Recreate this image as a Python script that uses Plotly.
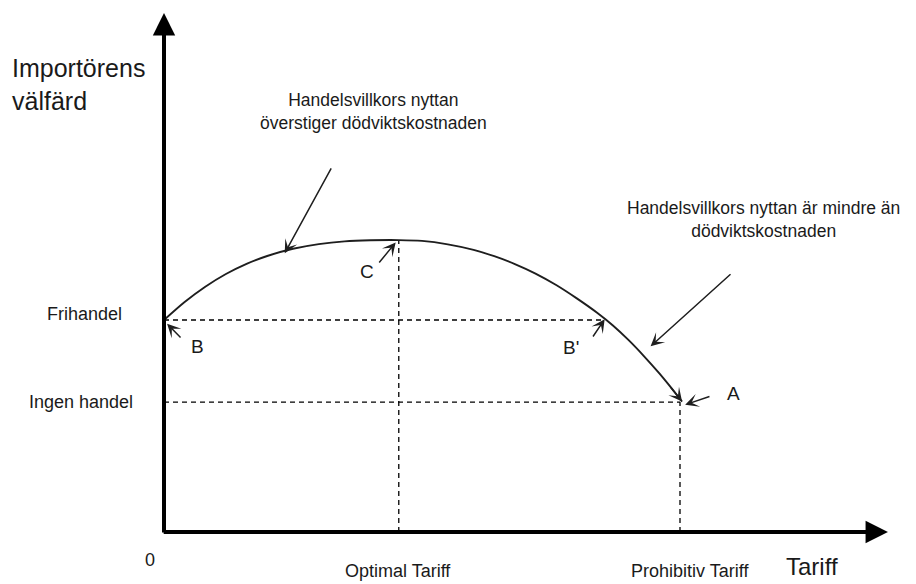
import plotly.graph_objects as go

# ---- data (abstract units: tariff 0..100 = prohibitive, welfare: free trade = 100) ----
tariff = [0, 4, 8, 12, 16, 20, 25, 30, 35, 40, 45.5,
          50, 55, 60, 64, 68, 72, 76, 80, 84, 87, 90, 93, 96, 98, 100.4]
welfare = [100, 108.5, 115.7, 121.7, 126.5, 130.2, 133.6, 135.8, 137.1, 137.6, 137.7,
           137.3, 135.7, 133.1, 130.1, 126.4, 121.9, 116.5, 110.2, 103.3, 97.4, 90.6, 83.0, 74.8, 68.9, 61.5]

free_trade_level = 100.0
no_trade_level = 61.3
optimal_tariff = 45.5
prohibitive_tariff = 100.0
b_prime_tariff = 85.4
peak_welfare = max(welfare)

y_label = "Importörens<br>välfärd"
x_label = "Tariff"
level_labels = ["Frihandel", "Ingen handel"]
tick_labels = ["0", "Optimal Tariff", "Prohibitiv Tariff"]
note_left = "Handelsvillkors nyttan<br>överstiger dödviktskostnaden"
note_right = "Handelsvillkors nyttan är mindre än<br>dödviktskostnaden"
point_labels = ["B", "C", "B'", "A"]

# ---- layout / scale ----
W, H = 916, 584
X0, Y0 = 164, 532          # pixel position of origin
KX, KY = 5.16, 2.12        # pixels per unit
FONT = "Liberation Sans, Arial, sans-serif"
TXT = "#1a1a1a"

def px(x, y):
    return x / W, 1 - y / H

fig = go.Figure()

dash_style = dict(color="black", width=1.3, dash="5px,4px")
fig.add_trace(go.Scatter(x=[0, b_prime_tariff], y=[free_trade_level] * 2, mode="lines", line=dash_style, hoverinfo="skip"))
fig.add_trace(go.Scatter(x=[0, prohibitive_tariff], y=[no_trade_level] * 2, mode="lines", line=dash_style, hoverinfo="skip"))
fig.add_trace(go.Scatter(x=[optimal_tariff] * 2, y=[0, peak_welfare], mode="lines", line=dash_style, hoverinfo="skip"))
fig.add_trace(go.Scatter(x=[prohibitive_tariff] * 2, y=[0, no_trade_level], mode="lines", line=dash_style, hoverinfo="skip"))

fig.add_trace(go.Scatter(x=tariff, y=welfare, mode="lines",
                         line=dict(color="#1e1e1e", width=1.9, shape="spline", smoothing=0.8),
                         hoverinfo="skip"))

annotations = []

def arrow(tail, tip, width=1.5, size=1.5, head=3, color="#1e1e1e"):
    annotations.append(dict(x=tip[0], y=tip[1], ax=tail[0], ay=tail[1], xref="x", yref="y",
                            axref="x", ayref="y", text="", showarrow=True, arrowhead=head,
                            arrowsize=size, arrowwidth=width, arrowcolor=color,
                            standoff=0, startstandoff=0))

# axes with arrows
arrow((0, -0.9), (0, 244.8), width=4, size=1.12, head=2, color="black")
arrow((-0.35, 0), (140.3, 0), width=4, size=1.12, head=2, color="black")

# curve-end arrow
arrow((tariff[-2], welfare[-2]), (tariff[-1], welfare[-1]))
# pointer arrows
arrow((32.56, 172.2), (23.4, 131.5))
arrow((110.08, 122.2), (94.3, 87.6))
arrow((106.0, 64.2), (101.0, 60.0))
arrow((3.49, 91.0), (0.6, 98.2))
arrow((41.47, 126.4), (44.9, 136.6))
arrow((82.95, 91.5), (85.4, 100.4))

def text(s, x, y, size=18, xanchor="center", align="center"):
    xp, yp = px(x, y)
    annotations.append(dict(x=xp, y=yp, xref="paper", yref="paper", text=s, showarrow=False,
                            xanchor=xanchor, yanchor="middle", align=align,
                            font=dict(family=FONT, size=size, color=TXT)))

text(y_label, 10, 84, size=25, xanchor="left", align="left")
text(x_label, 812, 566, size=24)
text(level_labels[0], 84, 314)
text(level_labels[1], 80.5, 402)
text(tick_labels[0], 149.5, 560)
text(tick_labels[1], 398, 571)
text(tick_labels[2], 689.5, 571)
text(note_left, 373, 111, size=17.5)
text(note_right, 763, 219, size=17.5)
text(point_labels[0], 197, 346, size=19)
text(point_labels[1], 366.5, 271, size=19)
text(point_labels[2], 571, 347, size=19)
text(point_labels[3], 733, 393, size=19)

fig.update_layout(
    width=W, height=H, margin=dict(l=0, r=0, t=0, b=0),
    paper_bgcolor="white", plot_bgcolor="white", showlegend=False,
    xaxis=dict(range=[-X0 / KX, (W - X0) / KX], visible=False, fixedrange=True),
    yaxis=dict(range=[-(H - Y0) / KY, Y0 / KY], visible=False, fixedrange=True),
    annotations=annotations,
)

fig.write_html("out.html", config={"displayModeBar": False},
               post_script="document.body.style.margin='0';document.body.style.overflow='hidden';")
